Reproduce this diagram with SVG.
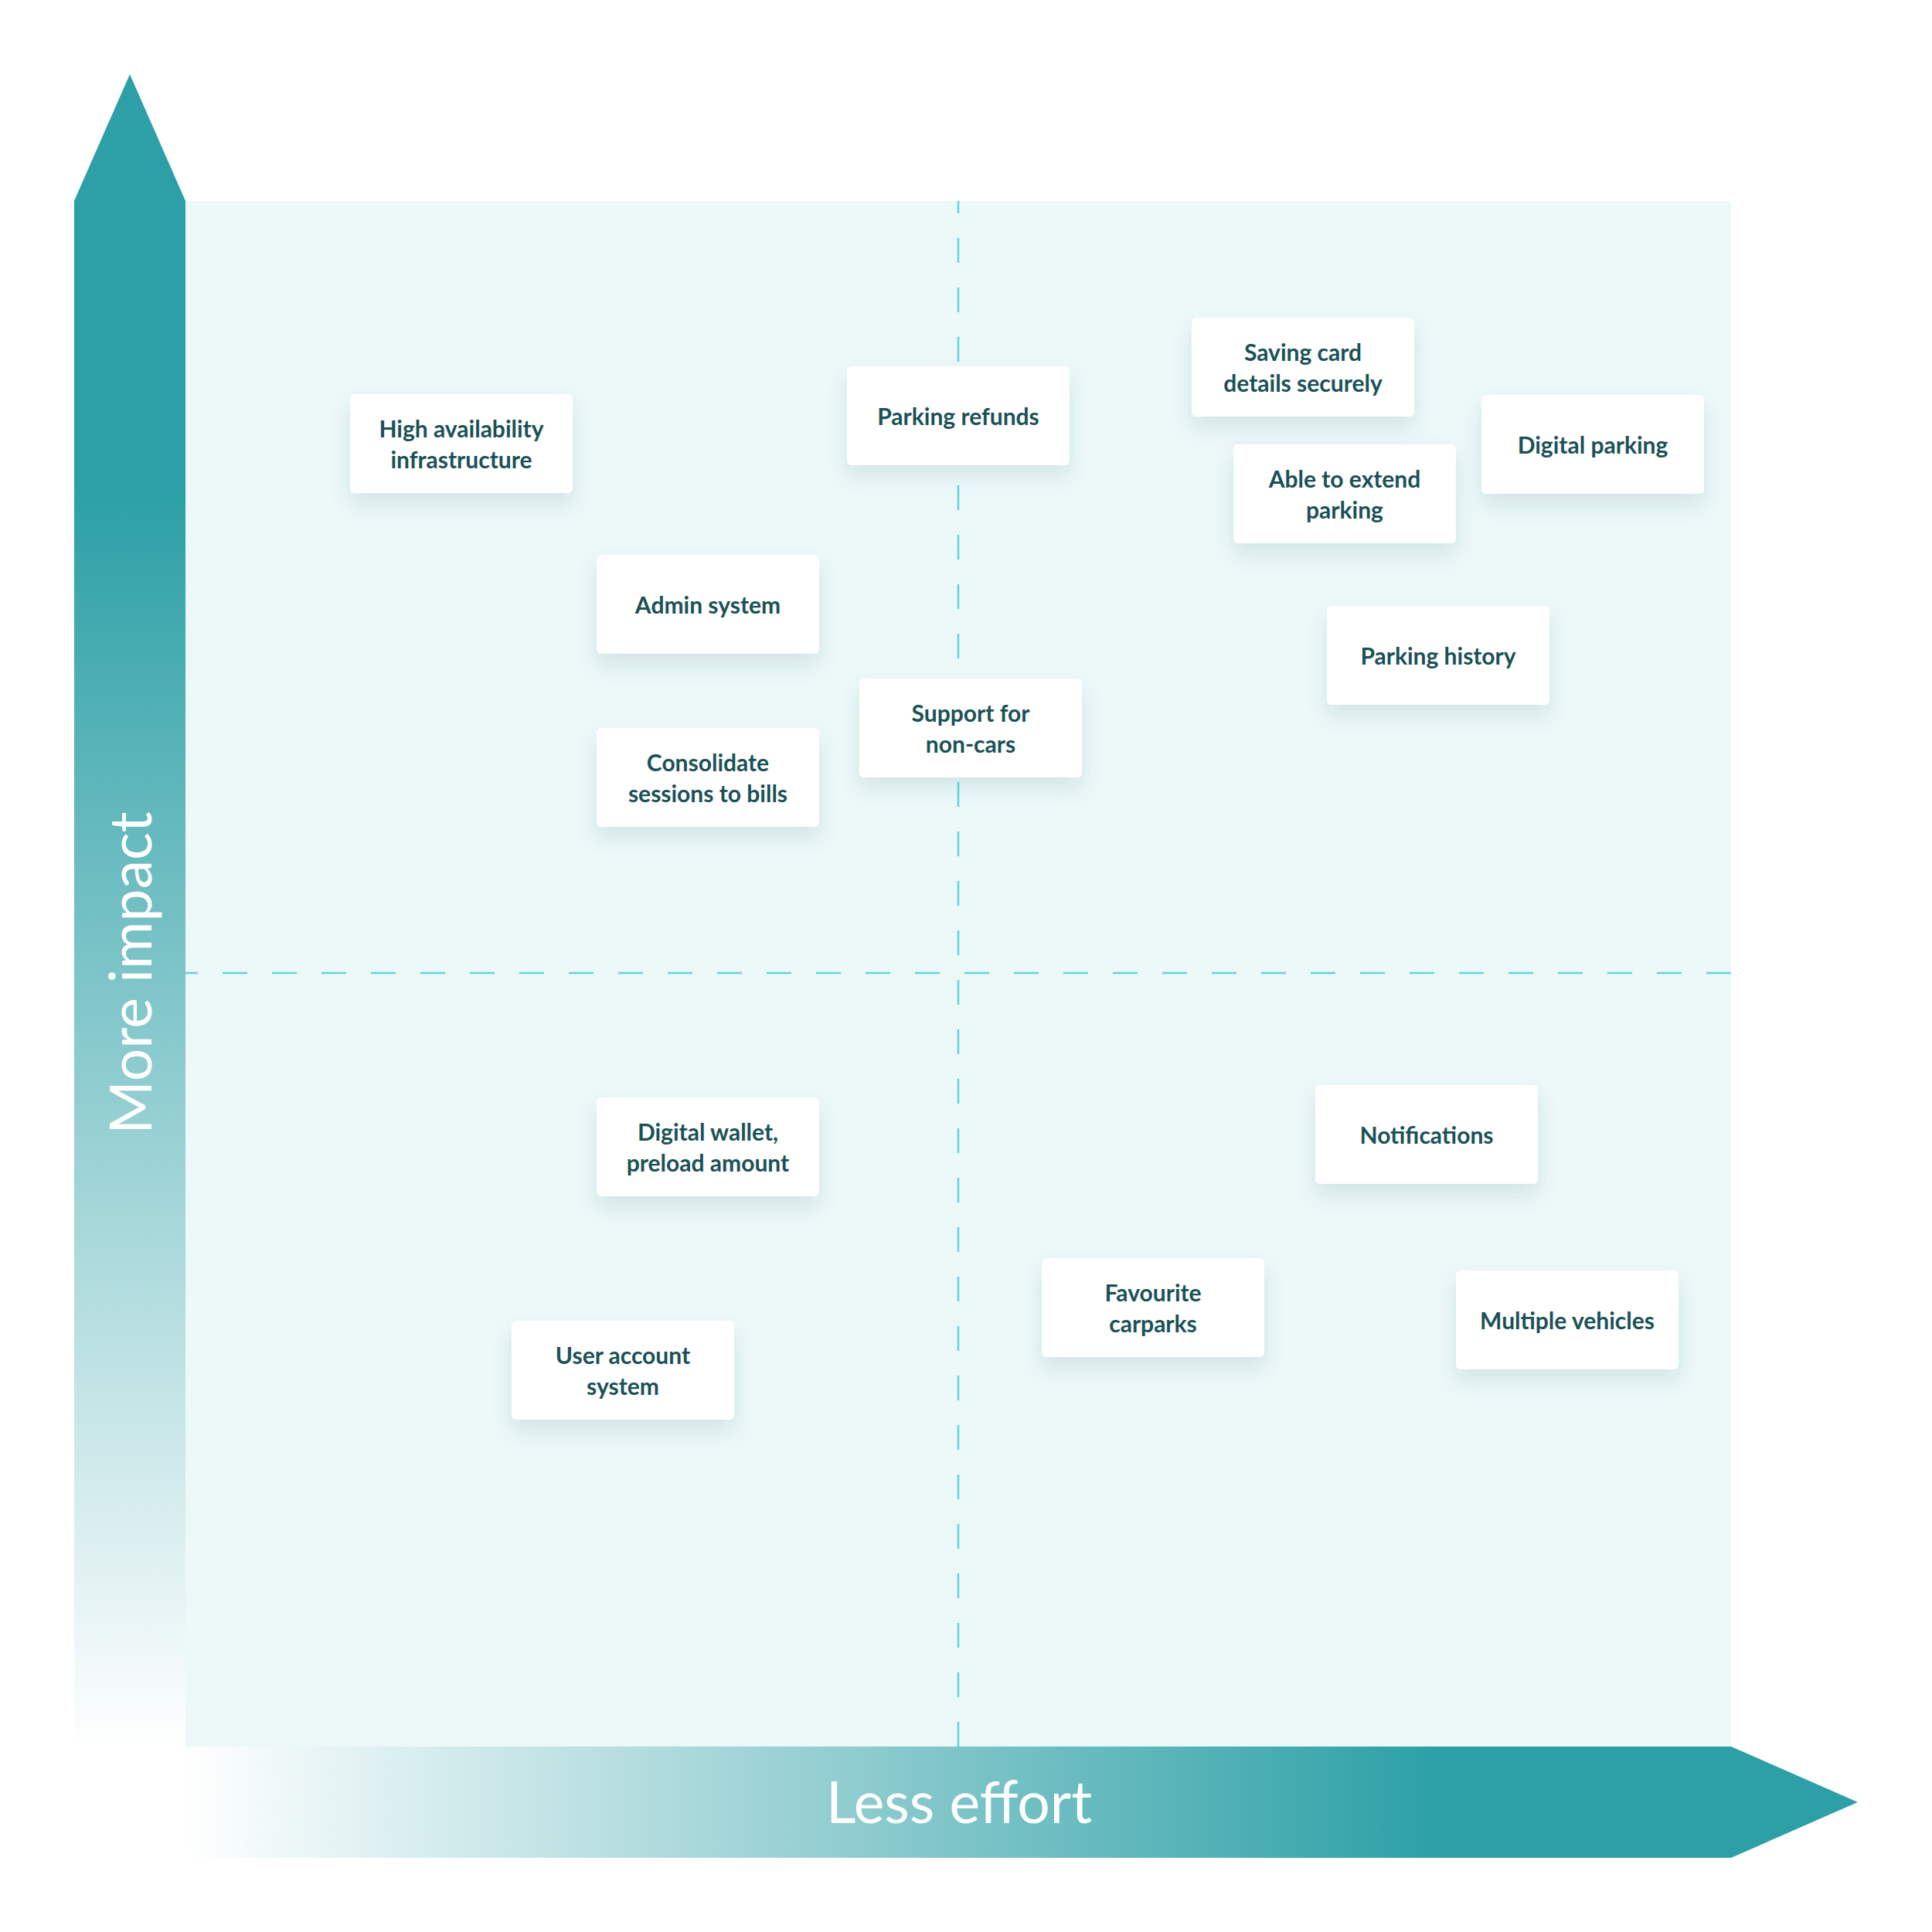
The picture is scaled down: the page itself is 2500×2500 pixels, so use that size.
<svg xmlns="http://www.w3.org/2000/svg" width="2500" height="2500" viewBox="0 0 2500 2500">
  <defs>
    <linearGradient id="gradV" gradientUnits="userSpaceOnUse" x1="0" y1="96" x2="0" y2="2260">
      <stop offset="0" stop-color="#2CA0A6"/>
      <stop offset="0.25" stop-color="#2CA0A6"/>
      <stop offset="1" stop-color="#FFFFFF"/>
    </linearGradient>
    <linearGradient id="gradH" gradientUnits="userSpaceOnUse" x1="240" y1="0" x2="2404" y2="0">
      <stop offset="0" stop-color="#FFFFFF"/>
      <stop offset="0.75" stop-color="#2CA0A6"/>
      <stop offset="1" stop-color="#2CA0A6"/>
    </linearGradient>
    <filter id="shadow" x="-20%" y="-30%" width="140%" height="180%">
      <feDropShadow dx="0" dy="14" stdDeviation="13" flood-color="#2B6E74" flood-opacity="0.14"/>
    </filter>
  </defs>
  <style>
    .card { fill: #FFFFFF; filter: url(#shadow); }
    .label { font-family: "Lato", "Liberation Sans", sans-serif; font-weight: 700; font-size: 30px; fill: #1A5156; text-anchor: middle; }
    .axis-label { font-family: "Lato", "Liberation Sans", sans-serif; font-weight: 400; font-size: 75px; fill: #FFFFFF; text-anchor: middle; }
    .divider { stroke: #5ED5E2; stroke-width: 2.5; stroke-dasharray: 32 32; stroke-dashoffset: 16; fill: none; }
  </style>

  <rect id="plot-area" x="240" y="260" width="2000" height="2000" fill="#EDF8F9"/>

  <g id="axes">
    <g id="axis-impact">
      <path d="M96 260 L168 96 L240 260 L240 2260 L96 2260 Z" fill="url(#gradV)"/>
      <text class="axis-label" transform="translate(196,1259) rotate(-90)" x="0" y="0">More impact</text>
    </g>
    <g id="axis-effort">
      <path d="M240 2260 L2240 2260 L2404 2332 L2240 2404 L240 2404 Z" fill="url(#gradH)"/>
      <text class="axis-label" x="1241" y="2359">Less effort</text>
    </g>
  </g>

  <g id="connectors">
    <line class="divider" x1="1240" y1="260" x2="1240" y2="2260"/>
    <line class="divider" x1="240" y1="1259" x2="2240" y2="1259"/>
  </g>

  <g id="node-high-availability">
    <rect class="card" x="453" y="510" width="288" height="128" rx="6"/>
    <text class="label" x="597" y="566">High availability</text>
    <text class="label" x="597" y="606">infrastructure</text>
  </g>
  <g id="node-parking-refunds">
    <rect class="card" x="1096" y="474" width="288" height="128" rx="6"/>
    <text class="label" x="1240" y="550">Parking refunds</text>
  </g>
  <g id="node-admin-system">
    <rect class="card" x="772" y="718" width="288" height="128" rx="6"/>
    <text class="label" x="916" y="794">Admin system</text>
  </g>
  <g id="node-consolidate">
    <rect class="card" x="772" y="942" width="288" height="128" rx="6"/>
    <text class="label" x="916" y="998">Consolidate</text>
    <text class="label" x="916" y="1038">sessions to bills</text>
  </g>
  <g id="node-support-non-cars">
    <rect class="card" x="1112" y="878" width="288" height="128" rx="6"/>
    <text class="label" x="1256" y="934">Support for</text>
    <text class="label" x="1256" y="974">non-cars</text>
  </g>
  <g id="node-saving-card">
    <rect class="card" x="1542" y="411" width="288" height="128" rx="6"/>
    <text class="label" x="1686" y="467">Saving card</text>
    <text class="label" x="1686" y="507">details securely</text>
  </g>
  <g id="node-digital-parking">
    <rect class="card" x="1917" y="511" width="288" height="128" rx="6"/>
    <text class="label" x="2061" y="587">Digital parking</text>
  </g>
  <g id="node-extend-parking">
    <rect class="card" x="1596" y="575" width="288" height="128" rx="6"/>
    <text class="label" x="1740" y="631">Able to extend</text>
    <text class="label" x="1740" y="671">parking</text>
  </g>
  <g id="node-parking-history">
    <rect class="card" x="1717" y="784" width="288" height="128" rx="6"/>
    <text class="label" x="1861" y="860">Parking history</text>
  </g>
  <g id="node-digital-wallet">
    <rect class="card" x="772" y="1420" width="288" height="128" rx="6"/>
    <text class="label" x="916" y="1476">Digital wallet,</text>
    <text class="label" x="916" y="1516">preload amount</text>
  </g>
  <g id="node-user-account">
    <rect class="card" x="662" y="1709" width="288" height="128" rx="6"/>
    <text class="label" x="806" y="1765">User account</text>
    <text class="label" x="806" y="1805">system</text>
  </g>
  <g id="node-notifications">
    <rect class="card" x="1702" y="1404" width="288" height="128" rx="6"/>
    <text class="label" x="1846" y="1480">Notifications</text>
  </g>
  <g id="node-favourite-carparks">
    <rect class="card" x="1348" y="1628" width="288" height="128" rx="6"/>
    <text class="label" x="1492" y="1684">Favourite</text>
    <text class="label" x="1492" y="1724">carparks</text>
  </g>
  <g id="node-multiple-vehicles">
    <rect class="card" x="1884" y="1644" width="288" height="128" rx="6"/>
    <text class="label" x="2028" y="1720">Multiple vehicles</text>
  </g>
</svg>
